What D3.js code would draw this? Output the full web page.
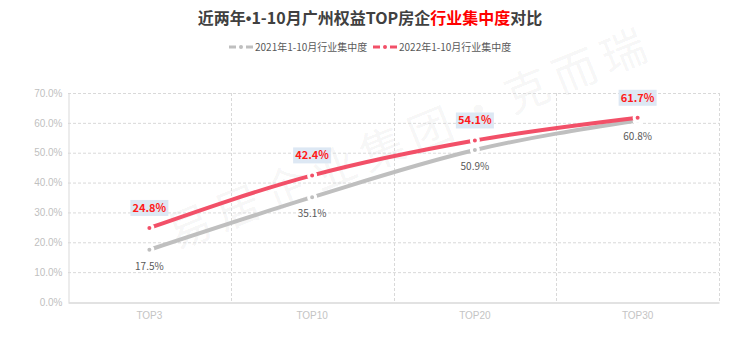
<!DOCTYPE html>
<html>
<head>
<meta charset="utf-8">
<script src="https://cdn.jsdelivr.net/npm/d3@7"></script>
<style>
  html, body { margin: 0; padding: 0; background: #fff; }
  svg { display: block; font-family: "Microsoft YaHei", "Noto Sans CJK SC", "Noto Sans", sans-serif; }
</style>
</head>
<body>
<svg id="chart" width="740" height="344"></svg>
<script>
var categories = ["TOP3", "TOP10", "TOP20", "TOP30"];
var series2021 = [17.5, 35.1, 50.9, 60.8];
var series2022 = [24.8, 42.4, 54.1, 61.7];
var yTicks = [0, 10, 20, 30, 40, 50, 60, 70];
var seriesNames = ["2021年1-10月行业集中度", "2022年1-10月行业集中度"];

var W = 740, H = 344;
var margin = {left: 68, right: 21, top: 93, bottom: 42};
var svg = d3.select("#chart");

// watermark
svg.append("text")
  .attr("transform", "translate(175,250) rotate(-22)")
  .attr("font-size", 44)
  .attr("fill", "#000")
  .attr("fill-opacity", 0.055)
  .attr("letter-spacing", 8)
  .text("易居企业集团·克而瑞");

var x = d3.scaleBand()
  .domain(categories)
  .range([margin.left, W - margin.right]);

var y = d3.scaleLinear()
  .domain([0, 70])
  .range([H - margin.bottom, margin.top]);

var g = svg.append("g");

// horizontal grid
g.selectAll("line.hgrid").data(yTicks.filter(d => d > 0))
  .enter().append("line")
  .attr("class", "hgrid")
  .attr("x1", margin.left).attr("x2", W - margin.right)
  .attr("y1", d => y(d) + 0.5).attr("y2", d => y(d) + 0.5)
  .attr("stroke", "#d9d9d9")
  .attr("stroke-dasharray", "3,2");

// vertical grid at band edges
var edges = categories.slice(1).map(c => x(c)).concat([W - margin.right]);
g.selectAll("line.vgrid").data(edges)
  .enter().append("line")
  .attr("class", "vgrid")
  .attr("x1", d => Math.round(d) + 0.5).attr("x2", d => Math.round(d) + 0.5)
  .attr("y1", y(70)).attr("y2", y(0))
  .attr("stroke", "#d9d9d9")
  .attr("stroke-dasharray", "3,2");

// y axis
var yAxis = d3.axisLeft(y).tickValues(yTicks).tickSize(0).tickPadding(6)
  .tickFormat(d => d.toFixed(1) + "%");
var ya = g.append("g").attr("transform", "translate(" + (margin.left + 0.5) + ",0)").call(yAxis);
ya.select(".domain").attr("stroke", "#d9d9d9");
ya.selectAll("text").attr("fill", "#bfbfbf").attr("font-size", 10)
  .attr("font-family", "'Liberation Sans', Arial, sans-serif");

// x axis
var xAxis = d3.axisBottom(x).tickSize(0).tickPadding(9);
var xa = g.append("g").attr("transform", "translate(0," + (y(0) + 0.5) + ")").call(xAxis);
xa.select(".domain").attr("stroke", "#d9d9d9").attr("stroke-width", 1.5);
xa.selectAll("text").attr("fill", "#c4c4c4").attr("font-size", 10)
  .attr("font-family", "'Liberation Sans', Arial, sans-serif");

var cx = d => x(d) + x.bandwidth() / 2;

var line = d3.line()
  .x((d, i) => cx(categories[i]))
  .y(d => y(d))
  .curve(d3.curveMonotoneX);

var specs = [
  {data: series2021, color: "#bfbfbf"},
  {data: series2022, color: "#f25068"}
];

specs.forEach(function(s) {
  g.append("path")
    .attr("d", line(s.data))
    .attr("fill", "none")
    .attr("stroke", s.color)
    .attr("stroke-width", 4)
    .attr("stroke-linecap", "round");
  g.selectAll(null).data(s.data).enter().append("circle")
    .attr("cx", (d, i) => cx(categories[i]))
    .attr("cy", d => y(d))
    .attr("r", 3.5)
    .attr("fill", s.color)
    .attr("stroke", "#fff")
    .attr("stroke-width", 3);
});

// 2021 labels (below)
g.selectAll("text.l21").data(series2021).enter().append("text")
  .attr("class", "l21")
  .attr("x", (d, i) => cx(categories[i]))
  .attr("y", d => y(d) + 20)
  .attr("text-anchor", "middle")
  .attr("font-size", 10)
  .attr("fill", "#595959")
  .text(d => d.toFixed(1) + "%");

// 2022 labels (above, boxed)
var lab = g.selectAll("g.l22").data(series2022).enter().append("g")
  .attr("class", "l22")
  .attr("transform", (d, i) => "translate(" + cx(categories[i]) + "," + (y(d) - 20) + ")");
lab.append("rect")
  .attr("x", -19).attr("y", -8).attr("width", 38).attr("height", 16)
  .attr("fill", "#dde8f4");
lab.append("text")
  .attr("text-anchor", "middle")
  .attr("dy", "0.36em")
  .attr("font-size", 11)
  .attr("font-weight", "bold")
  .attr("fill", "#ff1a1a")
  .text(d => d.toFixed(1) + "%");

// title
var title = svg.append("text")
  .attr("x", W / 2).attr("y", 24)
  .attr("text-anchor", "middle")
  .attr("font-size", 16)
  .attr("font-weight", "bold")
  .attr("fill", "#404040");
title.append("tspan").text("近两年");
title.append("tspan").attr("font-family", "'Liberation Sans', Arial, sans-serif").text("•");
title.append("tspan").text("1-10月广州权益TOP房企");
title.append("tspan").attr("fill", "#ff0000").text("行业集中度");
title.append("tspan").text("对比");

// legend
var legendItems = [
  {name: seriesNames[0], color: "#bfbfbf", x: 229},
  {name: seriesNames[1], color: "#f25068", x: 373}
];
var lg = svg.selectAll("g.legend").data(legendItems).enter().append("g")
  .attr("class", "legend")
  .attr("transform", d => "translate(" + d.x + ",47)");
lg.append("line").attr("x1", 0).attr("x2", 7).attr("y1", 0).attr("y2", 0)
  .attr("stroke", d => d.color).attr("stroke-width", 3);
lg.append("circle").attr("cx", 12).attr("cy", 0).attr("r", 2).attr("fill", d => d.color);
lg.append("line").attr("x1", 17).attr("x2", 24).attr("y1", 0).attr("y2", 0)
  .attr("stroke", d => d.color).attr("stroke-width", 3);
lg.append("text").attr("x", 26).attr("dy", "0.35em")
  .attr("font-size", 10).attr("fill", "#595959")
  .text(d => d.name);
</script>
</body>
</html>
